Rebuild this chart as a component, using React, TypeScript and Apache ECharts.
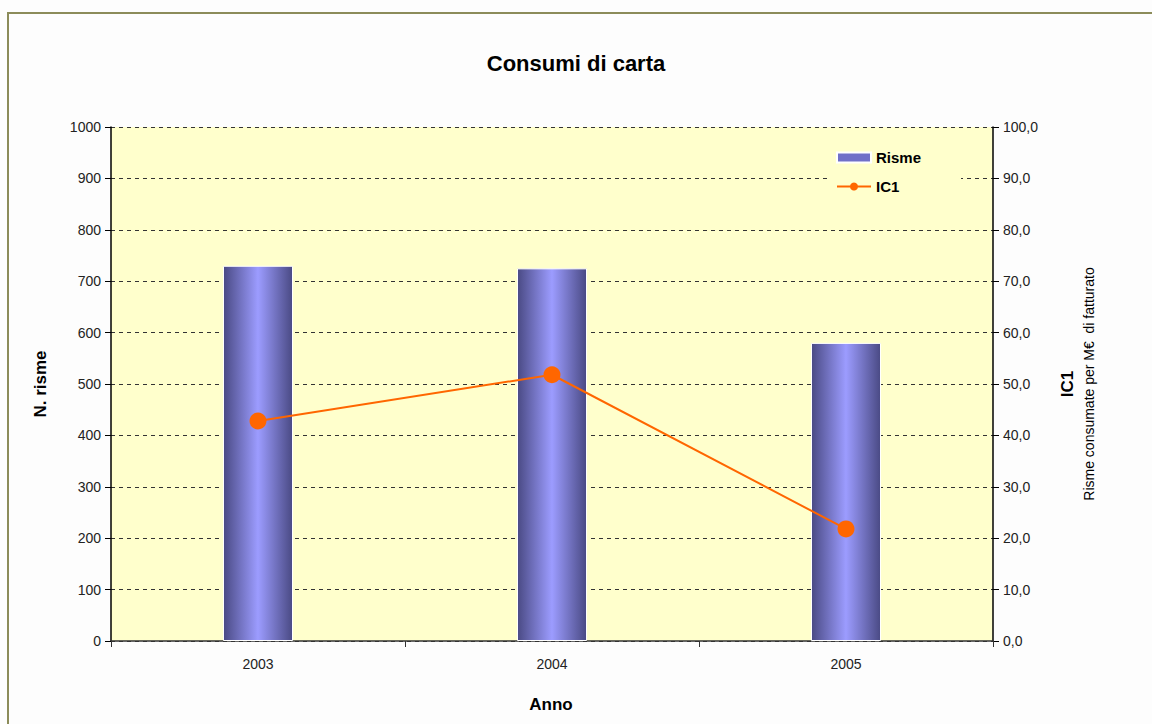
import React, { useEffect, useRef } from "react";
import * as echarts from "echarts";

const years = ["2003", "2004", "2005"];
const risme = [730, 725, 580];
const ic1 = [42.8, 51.8, 21.8];

export default function App() {
  const ref = useRef<HTMLDivElement>(null);
  useEffect(() => {
    const chart = echarts.init(ref.current!, null, { renderer: "svg" });
    const font = "Arial, 'Liberation Sans', sans-serif";
    const barGrad = new echarts.graphic.LinearGradient(0, 0, 1, 0, [
      { offset: 0, color: "#4a4a84" },
      { offset: 0.5, color: "#9c9cff" },
      { offset: 1, color: "#4a4a84" },
    ]);
    chart.setOption({
      animation: false,
      backgroundColor: "#fdfdfd",
      textStyle: { fontFamily: font },
      title: {
        text: "Consumi di carta",
        left: "center",
        top: 47,
        textStyle: { fontSize: 22, fontWeight: "bold", color: "#000", fontFamily: font },
      },
      grid: { left: 111, right: 159, top: 127, bottom: 83, show: true, backgroundColor: "#ffffcc", borderWidth: 0 },
      legend: {
        orient: "vertical",
        left: 828,
        top: 146,
        padding: [4, 40, 4, 8],
        backgroundColor: "#ffffcc",
        itemGap: 14,
        itemWidth: 34,
        itemHeight: 10,
        textStyle: { fontSize: 15, fontWeight: "bold", color: "#000", fontFamily: font },
        data: [
          { name: "Risme", icon: "rect", itemStyle: { color: "#7070c8" } },
          { name: "IC1" },
        ],
      },
      graphic: [
        {
          type: "rect",
          shape: { x: 8, y: 13, width: 1160, height: 730 },
          style: { fill: "none", stroke: "#8c8c5a", lineWidth: 2 },
          silent: true,
        },
        {
          type: "text",
          x: 40,
          y: 384,
          rotation: Math.PI / 2,
          style: { text: "N. risme", fontSize: 17, fontWeight: "bold", fill: "#000", align: "center", verticalAlign: "middle", fontFamily: font },
        },
        {
          type: "text",
          x: 1067,
          y: 384,
          rotation: Math.PI / 2,
          style: { text: "IC1", fontSize: 17, fontWeight: "bold", fill: "#000", align: "center", verticalAlign: "middle", fontFamily: font },
        },
        {
          type: "text",
          x: 1089,
          y: 384,
          rotation: Math.PI / 2,
          style: { text: "Risme consumate per M€  di fatturato", fontSize: 14, fill: "#000", align: "center", verticalAlign: "middle", fontFamily: font },
        },
        {
          type: "text",
          x: 551,
          y: 704,
          style: { text: "Anno", fontSize: 17, fontWeight: "bold", fill: "#000", align: "center", verticalAlign: "middle", fontFamily: font },
        },
      ],
      xAxis: {
        type: "category",
        data: years,
        boundaryGap: true,
        axisLine: { lineStyle: { color: "#333", width: 1.5 } },
        axisTick: { show: true, length: 6, lineStyle: { color: "#333" } },
        axisLabel: { fontSize: 14, color: "#222", margin: 16, fontFamily: font },
        splitLine: { show: false },
      },
      yAxis: [
        {
          type: "value",
          min: 0,
          max: 1000,
          interval: 100,
          position: "left",
          axisLine: { show: true, lineStyle: { color: "#000", width: 1.5 } },
          axisTick: { show: true, length: 6, inside: false, lineStyle: { color: "#000" } },
          axisLabel: { fontSize: 14, color: "#222", margin: 10, fontFamily: font, formatter: (v: number) => String(v) },
          splitLine: { show: true, lineStyle: { color: "#333", type: [4, 4], width: 1 } },
        },
        {
          type: "value",
          min: 0,
          max: 100,
          interval: 10,
          position: "right",
          axisLine: { show: true, lineStyle: { color: "#000", width: 1.5 } },
          axisTick: { show: true, length: 6, lineStyle: { color: "#000" } },
          axisLabel: {
            fontSize: 14,
            color: "#222",
            margin: 10,
            fontFamily: font,
            formatter: (v: number) => v.toFixed(1).replace(".", ","),
          },
          splitLine: { show: false },
        },
      ],
      series: [
        {
          name: "Risme",
          type: "bar",
          data: risme,
          yAxisIndex: 0,
          barWidth: 70,
          itemStyle: { color: barGrad, borderColor: "#ffffff", borderWidth: 1 },
          z: 2,
        },
        {
          name: "IC1",
          type: "line",
          data: ic1,
          yAxisIndex: 1,
          symbol: "circle",
          symbolSize: 17,
          lineStyle: { color: "#ff6600", width: 2 },
          itemStyle: { color: "#ff6600" },
          z: 3,
        },
      ],
    });
    return () => chart.dispose();
  }, []);
  return <div ref={ref} style={{ position: "fixed", left: 0, top: 0, width: 1152, height: 724 }} />;
}
